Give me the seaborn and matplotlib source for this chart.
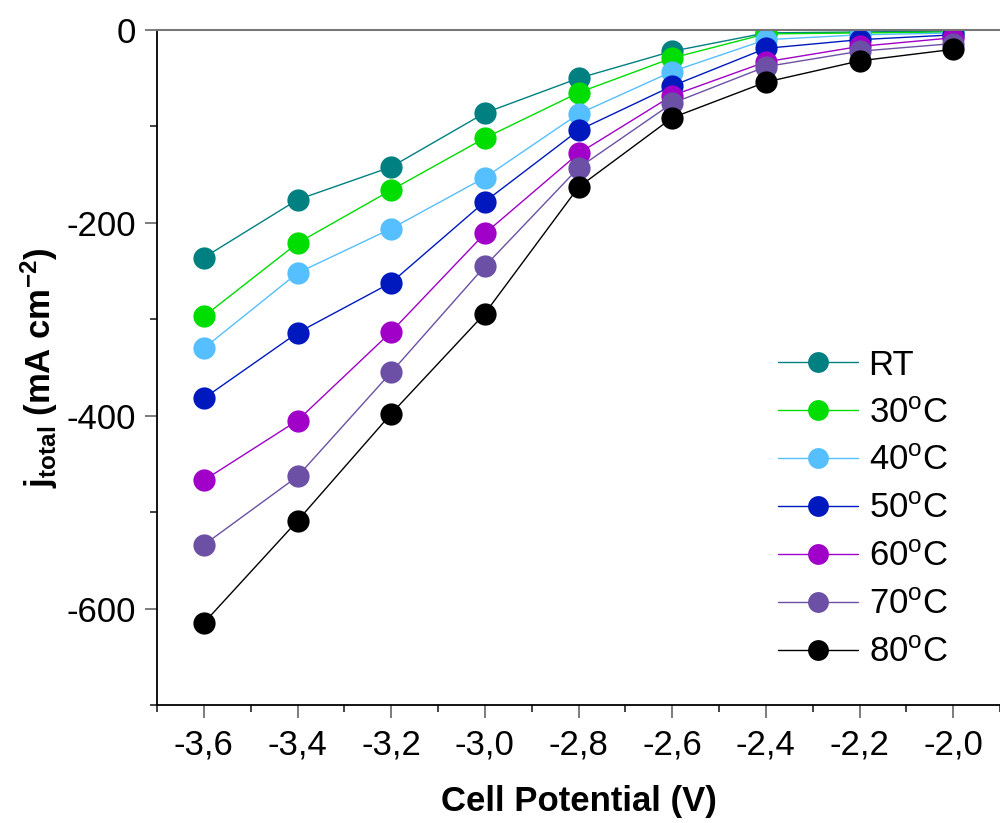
import numpy as np
import pandas as pd
import matplotlib
matplotlib.use("Agg")
import matplotlib.pyplot as plt
import seaborn as sns
from matplotlib.ticker import MultipleLocator, FuncFormatter

sns.set_style("ticks")
plt.rcParams['font.family'] = ['Liberation Sans', 'DejaVu Sans']
plt.rcParams['mathtext.fontset'] = 'custom'
plt.rcParams['mathtext.rm'] = 'Liberation Sans'
plt.rcParams['mathtext.it'] = 'Liberation Sans:italic'
plt.rcParams['mathtext.bf'] = 'Liberation Sans:bold'
plt.rcParams['text.color'] = 'black'
plt.rcParams['axes.labelcolor'] = 'black'
plt.rcParams['xtick.labelcolor'] = 'black'
plt.rcParams['ytick.labelcolor'] = 'black'

potential = [-3.6, -3.4, -3.2, -3.0, -2.8, -2.6, -2.4, -2.2, -2.0]
labels = ["RT", "30$^\\mathrm{o}$C", "40$^\\mathrm{o}$C", "50$^\\mathrm{o}$C",
          "60$^\\mathrm{o}$C", "70$^\\mathrm{o}$C", "80$^\\mathrm{o}$C"]
j_rt = [-236, -176, -142, -86, -50, -22, -3, -2, -1]
j_30 = [-297, -221, -166, -112, -65, -29, -4, -3, -2]
j_40 = [-330, -252, -206, -153, -87, -43, -10, -5, -3]
j_50 = [-382, -314, -262, -178, -104, -58, -19, -10, -5]
j_60 = [-467, -405, -313, -211, -128, -68, -33, -17, -8]
j_70 = [-534, -463, -355, -245, -143, -76, -38, -22, -14]
j_80 = [-615, -509, -398, -294, -163, -91, -54, -32, -20]
colors = ["#008080", "#00DD00", "#55BFFF", "#0019BF", "#A000C8", "#6B50A5", "#000000"]

series = [j_rt, j_30, j_40, j_50, j_60, j_70, j_80]
rows = []
for lab, vals in zip(labels, series):
    for v, j in zip(potential, vals):
        rows.append({"V": v, "j": j, "T": lab})
df = pd.DataFrame(rows)

fig = plt.figure(figsize=(10, 8.23), dpi=100)
ax = fig.add_axes([0.157, 0.1434, 0.843, 0.8201])

sns.lineplot(data=df, x="V", y="j", hue="T", hue_order=labels,
             palette=dict(zip(labels, colors)), marker="o", markersize=16,
             markeredgewidth=0, linewidth=1, ax=ax, legend=True)

ax.set_xlim(-3.7, -1.9)
ax.set_ylim(-700, 0)
ax.xaxis.set_major_locator(MultipleLocator(0.2))
ax.xaxis.set_minor_locator(MultipleLocator(0.1))
ax.yaxis.set_major_locator(MultipleLocator(200))
ax.yaxis.set_minor_locator(MultipleLocator(100))
ax.xaxis.set_major_formatter(FuncFormatter(lambda v, p: f"{v:.1f}".replace(".", ",")))
ax.yaxis.set_major_formatter(FuncFormatter(lambda v, p: f"{v:.0f}"))

ax.tick_params(axis="both", which="major", direction="out", length=9, width=1.2,
               color="#666666", labelsize=25, pad=6)
ax.tick_params(axis="x", which="major", pad=8)
ax.tick_params(axis="both", which="minor", direction="out", length=5, width=1.2,
               color="#222222")

ax.spines["right"].set_visible(False)
ax.spines["top"].set_color("#777777")
ax.spines["top"].set_linewidth(1.5)
ax.spines["left"].set_linewidth(1.3)
ax.spines["bottom"].set_linewidth(1.3)
ax.spines["left"].set_color("black")
ax.spines["bottom"].set_color("black")

ax.set_xlabel("Cell Potential (V)", fontsize=25, fontweight="bold", labelpad=17)
ax.set_ylabel("$\\mathbf{j_{total}}$ (mA cm$^{\\mathbf{-2}}$)", fontsize=25,
              fontweight="bold", labelpad=5)

leg = ax.legend(loc="upper left", bbox_to_anchor=(0.737, 0.528), frameon=False,
                fontsize=25, handlelength=2.3, labelspacing=0.43, handletextpad=0.3,
                borderaxespad=0, borderpad=0)
for h in leg.legend_handles:
    h.set_markersize(15)

fig.savefig("out.png", dpi=100)
